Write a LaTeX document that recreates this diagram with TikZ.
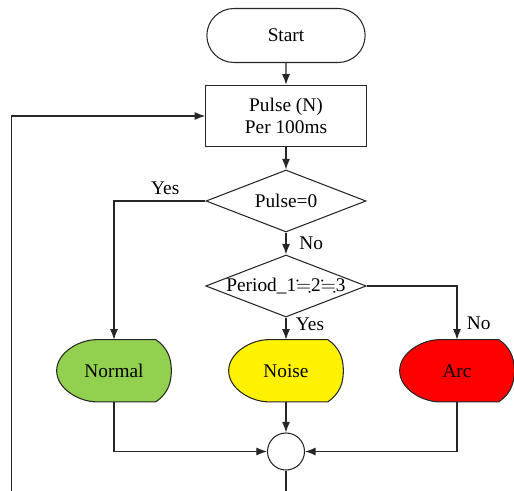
\documentclass[tikz,border=0pt]{standalone}
\usepackage{fontspec}
\setmainfont{Liberation Serif}
\usepackage{amssymb}
\usetikzlibrary{shapes.geometric,shapes.misc,arrows.meta,backgrounds}

\tikzset{
  line/.style={draw=black!85,line width=0.6pt},
  arr/.style={line,-{Latex[length=6pt,width=4.5pt]}},
  termbox/.style={rounded rectangle,line,minimum width=3.4cm,minimum height=1.08cm},
  procbox/.style={rectangle,line,minimum width=3.21cm,minimum height=1.23cm,align=center},
  decbox/.style={diamond,line,aspect=2.6,inner sep=0pt,minimum width=3.2cm,minimum height=1.24cm},
  dispbox/.style={rectangle,minimum width=2.28cm,minimum height=1.23cm},
  joinpt/.style={circle,line,minimum size=0.74cm,inner sep=0pt}
}

\newcommand{\dispoutline}[2]{%
  \path[line,fill=#2] ([xshift=0.8cm]#1.south west) to[out=180,in=-90,looseness=0.9] (#1.west)
    to[out=90,in=180,looseness=0.9] ([xshift=0.8cm]#1.north west) -- ([xshift=-0.31cm]#1.north east)
    to[out=-35,in=90] (#1.east) to[out=-90,in=35] ([xshift=-0.31cm]#1.south east) -- cycle;
}

\definecolor{normalgreen}{HTML}{92D050}

\begin{document}
\begin{tikzpicture}[font=\fontsize{11pt}{12.5pt}\selectfont]
            \useasboundingbox (0,0) rectangle (10.28,-9.82);

            \node[termbox] (start) at (5.72,-0.71) {Start};
            \node[procbox] (pulse) at (5.72,-2.32) {Pulse (N)\\Per 100ms};
            \node[decbox] (chk) at (5.72,-4.02) {Pulse=0};
            \node[decbox] (per) at (5.72,-5.72) {Period\_1$\fallingdotseq$2$\fallingdotseq$3};

            \node[dispbox] (normal) at (2.28,-7.415) {Normal};
            \node[dispbox] (noise) at (5.72,-7.415) {Noise};
            \node[dispbox] (arc) at (9.14,-7.415) {Arc};
            \begin{pgfonlayer}{background}
              \dispoutline{normal}{normalgreen}
              \dispoutline{noise}{yellow}
              \dispoutline{arc}{red}
            \end{pgfonlayer}

            \node[joinpt] (join) at (5.72,-9.03) {};
            \coordinate (outb) at (5.72,-9.82);
            \coordinate (loop) at (0.23,-9.82);

            \draw[arr] (start) -- (pulse);
            \draw[arr] (pulse) -- (chk);
            \draw[arr] (chk.west) -| node[above,pos=0.22] {Yes} (normal.north);
            \draw[arr] (chk.south) -- node[right,xshift=4pt] {No} (per.north);
            \draw[arr] (per.east) -| node[right,pos=0.85,xshift=2pt] {No} (arc.north);
            \draw[arr] (per.south) -- node[right,pos=0.3,xshift=2pt] {Yes} (noise.north);

            \draw[arr] (noise.south) -- (join.north);
            \draw[arr] (normal.south) |- (join.west);
            \draw[arr] (arc.south) |- (join.east);
            \draw[line] (join.south) -- (outb);
            \draw[arr] (loop) |- (pulse.west);
\end{tikzpicture}
\end{document}
